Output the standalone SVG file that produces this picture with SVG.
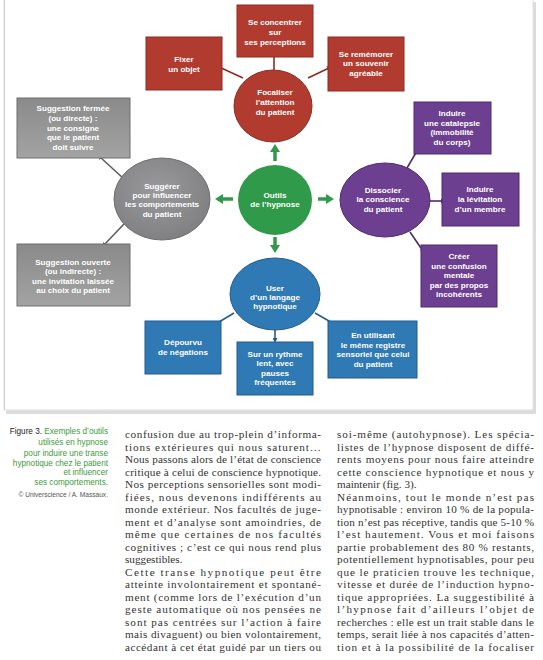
<svg xmlns="http://www.w3.org/2000/svg" width="543" height="660" viewBox="0 0 543 660">
<defs>
<style>
.nt{font-family:"Liberation Sans","DejaVu Sans",sans-serif;font-weight:bold;font-size:8.1px;fill:#fff;text-anchor:middle}
.body{font-family:"Liberation Serif","DejaVu Serif",serif;font-size:11.2px;fill:#333}
.cap{font-family:"Liberation Sans","DejaVu Sans",sans-serif;font-size:8.2px;fill:#3d9b3a;text-anchor:end}
.red{fill:#b23b2f;stroke:#8e2b22;stroke-width:1}
.grey{fill:url(#gg);stroke:#6f6f6f;stroke-width:1}
.purple{fill:#6c3f90;stroke:#4f2c6c;stroke-width:1}
.blue{fill:#2f79b4;stroke:#235d8c;stroke-width:1}
.green{fill:#2f9a4a}
.ga{stroke:#2f9a4a;stroke-width:3.5;marker-end:url(#garr)}
.cr{stroke:#8e2b22;stroke-width:1.6;marker-end:url(#ar)}
.cg{stroke:#5e5e5e;stroke-width:1.6;marker-end:url(#ag)}
.cp{stroke:#4f2c6c;stroke-width:1.6;marker-end:url(#ap)}
.cb{stroke:#235d8c;stroke-width:1.6;marker-end:url(#ab)}
</style>
<linearGradient id="gg" x1="0" y1="0" x2="0" y2="1"><stop offset="0" stop-color="#8a8a8a"/><stop offset="1" stop-color="#a3a3a3"/></linearGradient>
<radialGradient id="gc" cx="0.45" cy="0.4" r="0.7"><stop offset="0" stop-color="#9a9a9c"/><stop offset="1" stop-color="#7c7c7e"/></radialGradient>
<marker id="garr" markerUnits="userSpaceOnUse" markerWidth="9" markerHeight="10" refX="1" refY="5" orient="auto"><path d="M0,0 L8,5 L0,10 z" fill="#2f9a4a"/></marker>
<marker id="ar" markerUnits="userSpaceOnUse" markerWidth="5" markerHeight="5" refX="2" refY="2.5" orient="auto"><path d="M0,0 L5,2.5 L0,5 z" fill="#8e2b22"/></marker>
<marker id="ag" markerUnits="userSpaceOnUse" markerWidth="5" markerHeight="5" refX="2" refY="2.5" orient="auto"><path d="M0,0 L5,2.5 L0,5 z" fill="#5e5e5e"/></marker>
<marker id="ap" markerUnits="userSpaceOnUse" markerWidth="5" markerHeight="5" refX="2" refY="2.5" orient="auto"><path d="M0,0 L5,2.5 L0,5 z" fill="#4f2c6c"/></marker>
<marker id="ab" markerUnits="userSpaceOnUse" markerWidth="5" markerHeight="5" refX="2" refY="2.5" orient="auto"><path d="M0,0 L5,2.5 L0,5 z" fill="#235d8c"/></marker>
</defs>
<rect x="0" y="0" width="543" height="660" fill="#ffffff"/>
<rect x="6" y="2" width="530" height="412" fill="#dcdcdc"/>
<rect x="4" y="-2" width="529" height="412" fill="#ffffff" stroke="#e2e2e2" stroke-width="1"/>
<line x1="4.5" y1="0" x2="4.5" y2="410" stroke="#cfcfcf" stroke-width="1"/>

<g id="connectors">
<line class="ga" x1="275" y1="161" x2="275" y2="151"/>
<line class="ga" x1="233" y1="199" x2="222" y2="199"/>
<line class="ga" x1="318" y1="199" x2="327" y2="199"/>
<line class="ga" x1="275" y1="237" x2="275" y2="246"/>
<line class="cr" x1="243" y1="78" x2="217" y2="66"/>
<line class="cr" x1="274" y1="70" x2="274" y2="55"/>
<line class="cr" x1="308" y1="78" x2="329" y2="68"/>
<line class="cg" x1="124" y1="179" x2="100" y2="157"/>
<line class="cg" x1="124" y1="224" x2="104" y2="245"/>
<line class="cp" x1="407" y1="168" x2="417" y2="151"/>
<line class="cp" x1="429" y1="201" x2="443" y2="201"/>
<line class="cp" x1="410" y1="232" x2="423" y2="251"/>
<line class="cb" x1="234" y1="313" x2="214" y2="325"/>
<line class="cb" x1="275" y1="330" x2="275" y2="340"/>
<line class="cb" x1="315" y1="313" x2="336" y2="325"/>
</g>

<g id="n-outils"><ellipse class="green" cx="275" cy="200" rx="37" ry="35"/>
<text class="nt" x="275" y="198">Outils</text><text class="nt" x="275" y="207">de l’hypnose</text></g>

<g id="n-focaliser"><ellipse class="red" cx="273" cy="106" rx="39" ry="36"/>
<text class="nt" x="275" y="95">Focaliser</text><text class="nt" x="275" y="105">l’attention</text><text class="nt" x="275" y="115">du patient</text></g>
<g id="n-fixer"><rect class="red" x="146" y="37" width="76" height="53"/>
<text class="nt" x="184" y="62">Fixer</text><text class="nt" x="184" y="72">un objet</text></g>
<g id="n-concentrer"><rect class="red" x="237" y="5" width="76" height="52"/>
<text class="nt" x="275" y="25">Se concentrer</text><text class="nt" x="275" y="35">sur</text><text class="nt" x="275" y="45">ses perceptions</text></g>
<g id="n-rememorer"><rect class="red" x="328" y="37" width="76" height="54"/>
<text class="nt" x="366" y="57">Se remémorer</text><text class="nt" x="366" y="66">un souvenir</text><text class="nt" x="366" y="76">agréable</text></g>

<g id="n-suggerer"><ellipse cx="162" cy="199" rx="48" ry="41" fill="url(#gc)" stroke="#6f6f6f" stroke-width="1"/>
<text class="nt" x="162" y="189">Suggérer</text><text class="nt" x="162" y="198">pour influencer</text><text class="nt" x="162" y="207">les comportements</text><text class="nt" x="162" y="217">du patient</text></g>
<g id="n-fermee"><rect class="grey" x="17" y="98" width="113" height="60"/>
<text class="nt" x="73" y="111">Suggestion fermée</text><text class="nt" x="73" y="121">(ou directe) :</text><text class="nt" x="73" y="131">une consigne</text><text class="nt" x="73" y="140">que le patient</text><text class="nt" x="73" y="150">doit suivre</text></g>
<g id="n-ouverte"><rect class="grey" x="17" y="244" width="113" height="62"/>
<text class="nt" x="73" y="265">Suggestion ouverte</text><text class="nt" x="73" y="274">(ou indirecte) :</text><text class="nt" x="73" y="284">une invitation laissée</text><text class="nt" x="73" y="293">au choix du patient</text></g>

<g id="n-dissocier"><ellipse class="purple" cx="385" cy="200" rx="45" ry="37"/>
<text class="nt" x="383" y="193">Dissocier</text><text class="nt" x="383" y="202">la conscience</text><text class="nt" x="383" y="212">du patient</text></g>
<g id="n-catalepsie"><rect class="purple" x="414" y="102" width="77" height="52"/>
<text class="nt" x="452" y="116">Induire</text><text class="nt" x="452" y="126">une catalepsie</text><text class="nt" x="452" y="135">(immobilité</text><text class="nt" x="452" y="145">du corps)</text></g>
<g id="n-levitation"><rect class="purple" x="442" y="173" width="77" height="53"/>
<text class="nt" x="480" y="192">Induire</text><text class="nt" x="480" y="202">la lévitation</text><text class="nt" x="480" y="212">d’un membre</text></g>
<g id="n-confusion"><rect class="purple" x="421" y="245" width="76" height="62"/>
<text class="nt" x="459" y="259">Créer</text><text class="nt" x="459" y="269">une confusion</text><text class="nt" x="459" y="278">mentale</text><text class="nt" x="459" y="288">par des propos</text><text class="nt" x="459" y="297">incohérents</text></g>

<g id="n-user"><ellipse class="blue" cx="275" cy="294" rx="45" ry="36"/>
<text class="nt" x="275" y="291">User</text><text class="nt" x="275" y="300">d’un langage</text><text class="nt" x="275" y="309">hypnotique</text></g>
<g id="n-negations"><rect class="blue" x="145" y="321" width="76" height="53"/>
<text class="nt" x="183" y="345">Dépourvu</text><text class="nt" x="183" y="355">de négations</text></g>
<g id="n-rythme"><rect class="blue" x="237" y="342" width="76" height="53"/>
<text class="nt" x="275" y="357">Sur un rythme</text><text class="nt" x="275" y="366">lent, avec</text><text class="nt" x="275" y="376">pauses</text><text class="nt" x="275" y="385">fréquentes</text></g>
<g id="n-registre"><rect class="blue" x="328" y="321" width="89" height="57"/>
<text class="nt" x="373" y="338">En utilisant</text><text class="nt" x="373" y="348">le même registre</text><text class="nt" x="373" y="357">sensoriel que celui</text><text class="nt" x="373" y="367">du patient</text></g>

<g id="caption">
<text class="cap" x="108" y="434"><tspan fill="#1a1a1a">Figure 3.</tspan> Exemples d’outils</text>
<text class="cap" x="108" y="445">utilisés en hypnose</text>
<text class="cap" x="108" y="456">pour induire une transe</text>
<text class="cap" x="108" y="466">hypnotique chez le patient</text>
<text class="cap" x="108" y="475">et influencer</text>
<text class="cap" x="108" y="485">ses comportements.</text>
<text class="cap" x="108" y="497" style="font-size:6.6px;fill:#555">© Universcience / A. Massaux.</text>
</g>

<g id="text-left" class="body">
<text x="125" y="438" textLength="196" lengthAdjust="spacing">confusion due au trop-plein d’informa-</text>
<text x="125" y="450.5" textLength="196" lengthAdjust="spacing">tions extérieures qui nous saturent…</text>
<text x="125" y="463" textLength="196" lengthAdjust="spacing">Nous passons alors de l’état de conscience</text>
<text x="125" y="475.5" textLength="196" lengthAdjust="spacing">critique à celui de conscience hypnotique.</text>
<text x="125" y="488" textLength="196" lengthAdjust="spacing">Nos perceptions sensorielles sont modi-</text>
<text x="125" y="500.5" textLength="196" lengthAdjust="spacing">fiées, nous devenons indifférents au</text>
<text x="125" y="513" textLength="196" lengthAdjust="spacing">monde extérieur. Nos facultés de juge-</text>
<text x="125" y="525.5" textLength="196" lengthAdjust="spacing">ment et d’analyse sont amoindries, de</text>
<text x="125" y="538" textLength="196" lengthAdjust="spacing">même que certaines de nos facultés</text>
<text x="125" y="550.5" textLength="196" lengthAdjust="spacing">cognitives ; c’est ce qui nous rend plus</text>
<text x="125" y="563">suggestibles.</text>
<text x="125" y="575.5" textLength="196" lengthAdjust="spacing">Cette transe hypnotique peut être</text>
<text x="125" y="588" textLength="196" lengthAdjust="spacing">atteinte involontairement et spontané-</text>
<text x="125" y="600.5" textLength="196" lengthAdjust="spacing">ment (comme lors de l’exécution d’un</text>
<text x="125" y="613" textLength="196" lengthAdjust="spacing">geste automatique où nos pensées ne</text>
<text x="125" y="625.5" textLength="196" lengthAdjust="spacing">sont pas centrées sur l’action à faire</text>
<text x="125" y="638" textLength="196" lengthAdjust="spacing">mais divaguent) ou bien volontairement,</text>
<text x="125" y="650.5" textLength="196" lengthAdjust="spacing">accédant à cet état guidé par un tiers ou</text>
</g>

<g id="text-right" class="body">
<text x="337" y="438" textLength="197" lengthAdjust="spacing">soi-même (autohypnose). Les spécia-</text>
<text x="337" y="450.5" textLength="197" lengthAdjust="spacing">listes de l’hypnose disposent de diffé-</text>
<text x="337" y="463" textLength="197" lengthAdjust="spacing">rents moyens pour nous faire atteindre</text>
<text x="337" y="475.5" textLength="197" lengthAdjust="spacing">cette conscience hypnotique et nous y</text>
<text x="337" y="488">maintenir (fig. 3).</text>
<text x="337" y="500.5" textLength="197" lengthAdjust="spacing">Néanmoins, tout le monde n’est pas</text>
<text x="337" y="513" textLength="197" lengthAdjust="spacing">hypnotisable : environ 10 % de la popula-</text>
<text x="337" y="525.5" textLength="197" lengthAdjust="spacing">tion n’est pas réceptive, tandis que 5-10 %</text>
<text x="337" y="538" textLength="197" lengthAdjust="spacing">l’est hautement. Vous et moi faisons</text>
<text x="337" y="550.5" textLength="197" lengthAdjust="spacing">partie probablement des 80 % restants,</text>
<text x="337" y="563" textLength="197" lengthAdjust="spacing">potentiellement hypnotisables, pour peu</text>
<text x="337" y="575.5" textLength="197" lengthAdjust="spacing">que le praticien trouve les technique,</text>
<text x="337" y="588" textLength="197" lengthAdjust="spacing">vitesse et durée de l’induction hypno-</text>
<text x="337" y="600.5" textLength="197" lengthAdjust="spacing">tique appropriées. La suggestibilité à</text>
<text x="337" y="613" textLength="197" lengthAdjust="spacing">l’hypnose fait d’ailleurs l’objet de</text>
<text x="337" y="625.5" textLength="197" lengthAdjust="spacing">recherches : elle est un trait stable dans le</text>
<text x="337" y="638" textLength="197" lengthAdjust="spacing">temps, serait liée à nos capacités d’atten-</text>
<text x="337" y="650.5" textLength="197" lengthAdjust="spacing">tion et à la possibilité de la focaliser</text>
</g>
</svg>
